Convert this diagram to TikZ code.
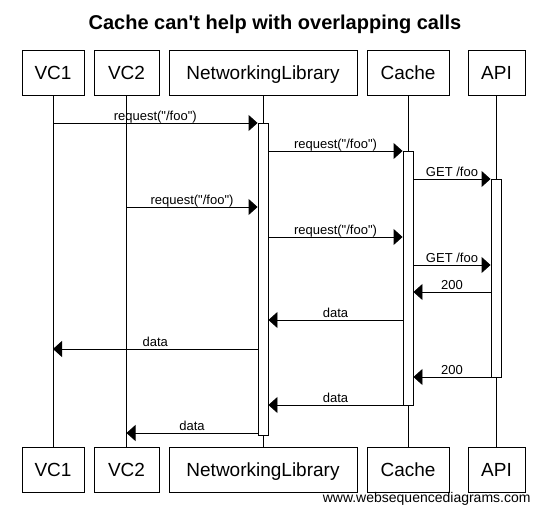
\documentclass[tikz,border=0pt]{standalone}
\usepackage{fontspec}
\setmainfont{Liberation Sans}[Ligatures=TeXOff]
\usetikzlibrary{arrows.meta, positioning}

\begin{document}
\begin{tikzpicture}[x=1pt,y=-1pt,line width=0.9pt,>={Triangle[length=9pt,width=16pt]},
      participant/.style={draw,minimum height=45pt,text height=13.5pt,text depth=0pt,
        inner sep=0pt,font=\fontsize{19}{22}\selectfont},
      activation/.style={draw,fill=white,minimum width=10pt,inner sep=0pt},
      msg/.style={->},
      msg label/.style={anchor=base,yshift=2.5pt,font=\fontsize{13}{15}\selectfont}]
      \path[use as bounding box,fill=white] (0,0) rectangle (550,526);
      \node[font=\bfseries\fontsize{20}{24}\selectfont,anchor=base] (title) at (275,30)
        {Cache can't help with overlapping calls};
      % participants at top and bottom, with their lifelines
      \foreach \name/\lbl/\x/\w in {vc1/VC1/53/62, vc2/VC2/126.5/65,
          netlib/NetworkingLibrary/263/188, cache/Cache/408/82, api/API/496.5/57} {
        \node[participant,minimum width=\w pt] (\name-top) at (\x,72.5) {\lbl};
        \node[participant,minimum width=\w pt] (\name-bot) at (\x,469.5) {\lbl};
        \draw (\name-top) -- (\name-bot);
      }
      % activation bars
      \node[activation,minimum height=312pt] (netlib-act) at (263,279) {};
      \node[activation,minimum height=254pt] (cache-act) at (408,278) {};
      \node[activation,minimum height=198pt] (api-act) at (496,278) {};
      % messages
      \foreach \y/\from/\to/\lbl in {
          123/vc1-top/netlib-act.west/{request("/foo")},
          151/netlib-act.east/cache-act.west/{request("/foo")},
          179/cache-act.east/api-act.west/{GET /foo},
          207/vc2-top/netlib-act.west/{request("/foo")},
          237/netlib-act.east/cache-act.west/{request("/foo")},
          265/cache-act.east/api-act.west/{GET /foo},
          292/api-act.west/cache-act.east/200,
          320/cache-act.west/netlib-act.east/data,
          349/netlib-act.west/vc1-top/data,
          377/api-act.west/cache-act.east/200,
          405/cache-act.west/netlib-act.east/data,
          433/netlib-act.west/vc2-top/data}
        \draw[msg] (\from |- 0,\y) -- node[msg label] {\lbl} (\to |- 0,\y);
      \node[anchor=base east,inner sep=0pt,font=\fontsize{14}{16}\selectfont] (footer)
        at (531,503) {www.websequencediagrams.com};
    \end{tikzpicture}
\end{document}
